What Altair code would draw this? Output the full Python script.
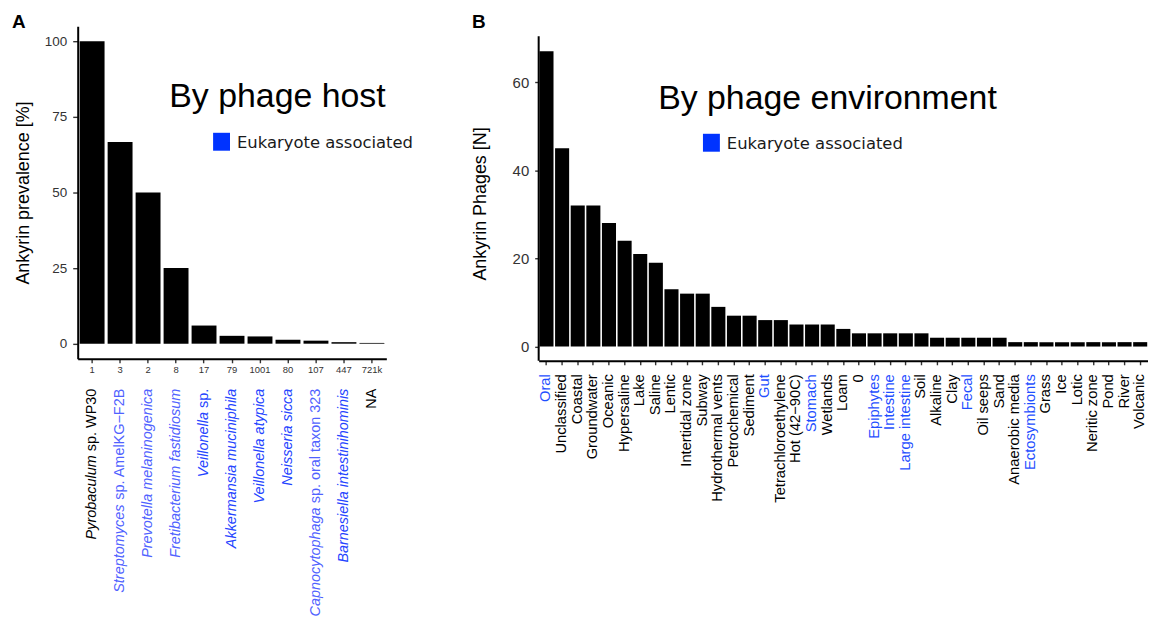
import altair as alt
import pandas as pd

# ---------------- data ----------------
host_counts = ["1", "3", "2", "8", "17", "79", "1001", "80", "107", "447", "721k"]
host_prevalence = [100, 66.7, 50, 25, 6.0, 2.6, 2.4, 1.3, 1.0, 0.5, 0.25]
host_italic = ["Pyrobaculum", "Streptomyces", "Prevotella melaninogenica",
               "Fretibacterium fastidiosum", "Veillonella", "Akkermansia muciniphila",
               "Veillonella atypica", "Neisseria sicca", "Capnocytophaga",
               "Barnesiella intestinihominis", ""]
host_roman = [" sp. WP30", " sp. AmelKG\u2212F2B", "", "", " sp.", "", "", "",
              " sp. oral taxon 323", "", "NA"]
host_group = ["other", "euk_light", "euk_light", "euk_light", "euk", "euk", "euk",
              "euk", "euk_light", "euk", "other"]

env_names = ["Oral", "Unclassified", "Coastal", "Groundwater", "Oceanic", "Hypersaline",
             "Lake", "Saline", "Lentic", "Intertidal zone", "Subway", "Hydrothermal vents",
             "Petrochemical", "Sediment", "Gut", "Tetrachloroethylene", "Hot (42\u221290C)",
             "Stomach", "Wetlands", "Loam", "0", "Epiphytes", "Intestine", "Large intestine",
             "Soil", "Alkaline", "Clay", "Fecal", "Oil seeps", "Sand", "Anaerobic media",
             "Ectosymbionts", "Grass", "Ice", "Lotic", "Neritic zone", "Pond", "River", "Volcanic"]
env_counts = [67, 45, 32, 32, 28, 24, 21, 19, 13, 12, 12, 9, 7, 7, 6, 6, 5, 5, 5, 4,
              3, 3, 3, 3, 3, 2, 2, 2, 2, 2, 1, 1, 1, 1, 1, 1, 1, 1, 1]
env_eukaryote = ["Oral", "Gut", "Stomach", "Epiphytes", "Intestine", "Large intestine",
                 "Fecal", "Ectosymbionts"]

# ---------------- helpers ----------------
ARIAL = {' ': 278, '.': 278, '(': 333, ')': 333, '\u2212': 584, '-': 333,
         'A': 667, 'B': 667, 'C': 722, 'D': 722, 'E': 667, 'F': 611, 'G': 778, 'H': 722,
         'I': 278, 'J': 500, 'K': 667, 'L': 556, 'M': 833, 'N': 722, 'O': 778, 'P': 667,
         'Q': 778, 'R': 722, 'S': 667, 'T': 611, 'U': 722, 'V': 667, 'W': 944, 'X': 667,
         'Y': 667, 'Z': 611, 'a': 556, 'b': 556, 'c': 500, 'd': 556, 'e': 556, 'f': 278,
         'g': 556, 'h': 556, 'i': 222, 'j': 222, 'k': 500, 'l': 222, 'm': 833, 'n': 556,
         'o': 556, 'p': 556, 'q': 556, 'r': 333, 's': 500, 't': 278, 'u': 556, 'v': 500,
         'w': 722, 'x': 500, 'y': 500, 'z': 500}


def text_width(s, size):
    return sum(ARIAL.get(c, 556) for c in s) * size / 1000.0


FONT = "Liberation Sans"
W1, H1 = 310, 334
W2, H2 = 612, 336          # right panel shares the top edge with the left one
AXIS_TOP2 = 10             # where the right y-axis line starts (panel top is lower)
NAME_SIZE = 14.5
EUK_BLUE = "#0033ff"

one = pd.DataFrame({"a": [0]})

# ---------------- left panel ----------------
host_df = pd.DataFrame({"n": host_counts, "prev": host_prevalence})
xh = alt.X("n:N", sort=host_counts,
           scale=alt.Scale(paddingInner=0.11, paddingOuter=0.07),
           axis=alt.Axis(title=None, labelAngle=0, labelFontSize=9.5, labelPadding=2,
                         tickSize=4, labelColor="#333333"))

bars1 = alt.Chart(host_df).mark_bar(color="black").encode(
    x=xh,
    y=alt.Y("prev:Q", scale=alt.Scale(domain=[-5, 105], nice=False, zero=False),
            axis=alt.Axis(values=[0, 25, 50, 75, 100], title="Ankyrin prevalence [%]",
                          labelFontSize=13.5, tickSize=5, labelPadding=6,
                          titleAngle=270, titleX=-54, titleY=H1 / 2,
                          titleAlign="center", titleBaseline="middle")),
    y2=alt.datum(0),
)

names_df = pd.DataFrame({
    "n": host_counts, "it": host_italic, "ro": host_roman, "grp": host_group,
    "dxv": [-text_width(r, NAME_SIZE) for r in host_roman],
})
name_color = alt.Color("grp:N", scale=alt.Scale(domain=["other", "euk_light", "euk"],
                                                range=["#000000", "#5062ff", "#2444ff"]),
                       legend=None)
names_roman = alt.Chart(names_df).mark_text(
    angle=270, align="right", baseline="middle", font=FONT, fontSize=NAME_SIZE
).encode(x=alt.X("n:N", sort=host_counts), y=alt.value(H1 + 30), text="ro:N", color=name_color)
names_italic = alt.Chart(names_df).mark_text(
    angle=270, align="right", baseline="middle", font=FONT, fontSize=NAME_SIZE,
    fontStyle="italic", dx=alt.ExprRef("datum.dxv")
).encode(x=alt.X("n:N", sort=host_counts), y=alt.value(H1 + 30), text="it:N", color=name_color)

title1 = alt.Chart(one).mark_text(text="By phage host", font=FONT, fontSize=34,
                                  align="left", baseline="alphabetic").encode(
    x=alt.value(92), y=alt.value(81))
sq1 = alt.Chart(one).mark_rect(color=EUK_BLUE).encode(
    x=alt.value(136), x2=alt.value(153), y=alt.value(107), y2=alt.value(125))
leg1 = alt.Chart(one).mark_text(text="Eukaryote associated", font="DejaVu Sans", fontSize=16.5,
                                align="left", baseline="alphabetic", color="#1a1a1a").encode(
    x=alt.value(160), y=alt.value(122))
letA = alt.Chart(one).mark_text(text="A", font=FONT, fontSize=19, fontWeight="bold",
                                align="left", baseline="alphabetic").encode(
    x=alt.value(-66), y=alt.value(2))

left = alt.layer(bars1, names_roman, names_italic, title1, sq1, leg1, letA).properties(
    width=W1, height=H1)

# ---------------- right panel ----------------
env_df = pd.DataFrame({"env": env_names, "count": env_counts})
euk_test = "indexof([" + ",".join("'" + e + "'" for e in env_eukaryote) + "], datum.value) >= 0"

bars2 = alt.Chart(env_df).mark_bar(color="black").encode(
    x=alt.X("env:N", sort=env_names,
            scale=alt.Scale(paddingInner=0.1, paddingOuter=0.05),
            axis=alt.Axis(title=None, labelAngle=270, labelAlign="right",
                          labelBaseline="middle", labelFontSize=14.8, labelPadding=9,
                          tickSize=4, labelOverlap=False, labelLimit=0,
                          labelColor={"condition": {"test": euk_test, "value": "#1f4fff"},
                                      "value": "#000000"})),
    y=alt.Y("count:Q", scale=alt.Scale(domain=[-3.23, 72.65], nice=False, zero=False),
            axis=alt.Axis(values=[0, 20, 40, 60], title="Ankyrin Phages [N]",
                          domain=False,
                          labelFontSize=15, tickSize=4, labelPadding=6,
                          titleAngle=270, titleX=-58, titleY=178,
                          titleAlign="center", titleBaseline="middle")),
    y2=alt.datum(0),
)
yline2 = alt.Chart(one).mark_rule(color="black", strokeWidth=2).encode(
    x=alt.value(0), y=alt.value(AXIS_TOP2), y2=alt.value(H2))
title2 = alt.Chart(one).mark_text(text="By phage environment", font=FONT, fontSize=34,
                                  align="left", baseline="alphabetic").encode(
    x=alt.value(120), y=alt.value(83))
sq2 = alt.Chart(one).mark_rect(color=EUK_BLUE).encode(
    x=alt.value(165), x2=alt.value(182), y=alt.value(108), y2=alt.value(126))
leg2 = alt.Chart(one).mark_text(text="Eukaryote associated", font="DejaVu Sans", fontSize=16.5,
                                align="left", baseline="alphabetic", color="#1a1a1a").encode(
    x=alt.value(189), y=alt.value(123))
letB = alt.Chart(one).mark_text(text="B", font=FONT, fontSize=19, fontWeight="bold",
                                align="left", baseline="alphabetic").encode(
    x=alt.value(-67), y=alt.value(2))

right = alt.layer(bars2, yline2, title2, sq2, leg2, letB).properties(width=W2, height=H2)

chart = alt.hconcat(left, right, spacing=58).properties(
    padding={"left": 4, "top": 4, "right": 0, "bottom": 0}
).configure_view(stroke=None).configure_axis(
    grid=False, domainColor="black", domainWidth=2, tickColor="#333333", tickWidth=1.4,
    labelColor="#333333", labelFont=FONT, titleFont=FONT, titleFontSize=18,
    titleFontWeight="normal", titleColor="black"
)

chart.save("out.html", embed_options={"renderer": "svg", "actions": False})
